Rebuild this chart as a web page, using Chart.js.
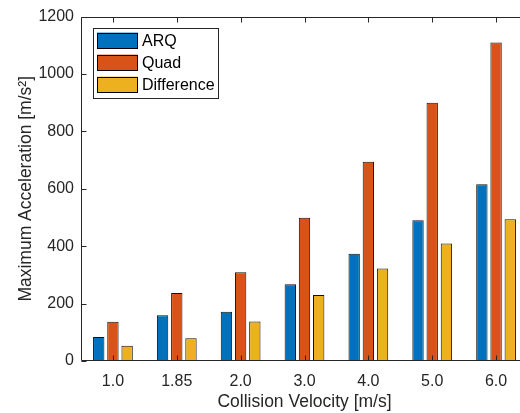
<!DOCTYPE html>
<html>
<head>
<meta charset="utf-8">
<script src="https://cdn.jsdelivr.net/npm/chart.js@4"></script>
<style>
  html, body { margin: 0; padding: 0; background: #fff; overflow: hidden; }
  #wrap { width: 540px; height: 413px; position: relative; }
</style>
</head>
<body>
<div id="wrap"><canvas id="c"></canvas></div>
<script>
const categories = ['1.0', '1.85', '2.0', '3.0', '4.0', '5.0', '6.0'];
const arqValues = [84, 159, 172, 267, 374, 490, 616];
const quadValues = [137, 237, 309, 499, 694, 900, 1110];
const diffValues = [53, 79, 138, 230, 322, 409, 494];
const seriesNames = ['ARQ', 'Quad', 'Difference'];
const seriesColors = ['#0072BD', '#D95319', '#EDB120'];

const AX = '#262626';
const FONT = "'Liberation Sans', Arial, Helvetica, sans-serif";

const matlabAxes = {
  id: 'matlabAxes',
  afterDatasetsDraw(chart) {
    const { ctx, chartArea: { left, right, top, bottom }, scales: { x, y } } = chart;
    ctx.save();
    ctx.strokeStyle = AX;
    ctx.lineWidth = 1;
    const L = Math.round(left) + 0.5, R = Math.round(right) - 0.5;
    const T = Math.round(top) + 0.5, B = Math.round(bottom) - 0.5;
    ctx.beginPath();
    ctx.rect(L, T, R - L, B - T);
    ctx.stroke();
    const tl = 5;
    ctx.beginPath();
    y.ticks.forEach((t, i) => {
      const py = Math.round(y.getPixelForTick(i)) + 0.5;
      ctx.moveTo(L, py); ctx.lineTo(L + tl, py);
      ctx.moveTo(R, py); ctx.lineTo(R - tl, py);
    });
    x.ticks.forEach((t, i) => {
      const px = Math.round(x.getPixelForTick(i)) + 0.5;
      ctx.moveTo(px, B); ctx.lineTo(px, B - tl);
      ctx.moveTo(px, T); ctx.lineTo(px, T + tl);
    });
    ctx.stroke();
    ctx.restore();
  },
  afterDraw(chart) {
    const { ctx, chartArea: { left, top } } = chart;
    const bx = left + 12, by = top + 11, bw = 125, bh = 70;
    ctx.save();
    ctx.fillStyle = '#fff';
    ctx.fillRect(bx, by, bw, bh);
    ctx.strokeStyle = AX;
    ctx.lineWidth = 1;
    ctx.strokeRect(Math.round(bx) + 0.5, Math.round(by) + 0.5, bw, bh);
    ctx.font = '16px ' + FONT;
    ctx.textBaseline = 'middle';
    ctx.textAlign = 'left';
    chart.data.datasets.forEach((ds, i) => {
      const sy = by + 5 + i * 22;
      ctx.fillStyle = ds.backgroundColor;
      ctx.fillRect(bx + 4, sy, 41, 16);
      ctx.strokeStyle = '#000';
      ctx.strokeRect(Math.round(bx + 4) + 0.5, Math.round(sy) + 0.5, 40, 15);
      ctx.fillStyle = '#000';
      ctx.fillText(ds.label, bx + 49, sy + 8.5);
    });
    ctx.restore();
  }
};

const datasets = [arqValues, quadValues, diffValues].map((vals, i) => ({
  label: seriesNames[i],
  data: vals,
  backgroundColor: seriesColors[i],
  borderColor: '#111',
  borderWidth: 1,
  barPercentage: 0.8,
  categoryPercentage: 0.667
}));

new Chart(document.getElementById('c'), {
  type: 'bar',
  data: { labels: categories, datasets },
  plugins: [matlabAxes],
  options: {
    responsive: true,
    maintainAspectRatio: false,
    animation: false,
    layout: { padding: { top: 12, right: 12, left: 0, bottom: 0 } },
    plugins: { legend: { display: false }, tooltip: { enabled: false } },
    scales: {
      x: {
        grid: { display: false, drawTicks: false },
        border: { display: false },
        ticks: { color: AX, font: { family: FONT, size: 16 }, padding: 11, maxRotation: 0 },
        title: { display: true, text: 'Collision Velocity [m/s]', color: AX,
                 font: { family: FONT, size: 17.5 }, padding: { top: 0, bottom: 0 } },
        afterFit(s) { s.height = 52; }
      },
      y: {
        min: 0, max: 1200,
        grid: { display: false, drawTicks: false },
        border: { display: false },
        ticks: { stepSize: 200, color: AX, font: { family: FONT, size: 16 }, padding: 7,
                 callback: (v) => String(v) },
        title: { display: true, text: 'Maximum Acceleration [m/s²]', color: AX,
                 font: { family: FONT, size: 17.5 }, padding: { top: 16, bottom: 0 } },
        afterFit(s) { s.width = 81; }
      }
    }
  }
});
</script>
</body>
</html>
